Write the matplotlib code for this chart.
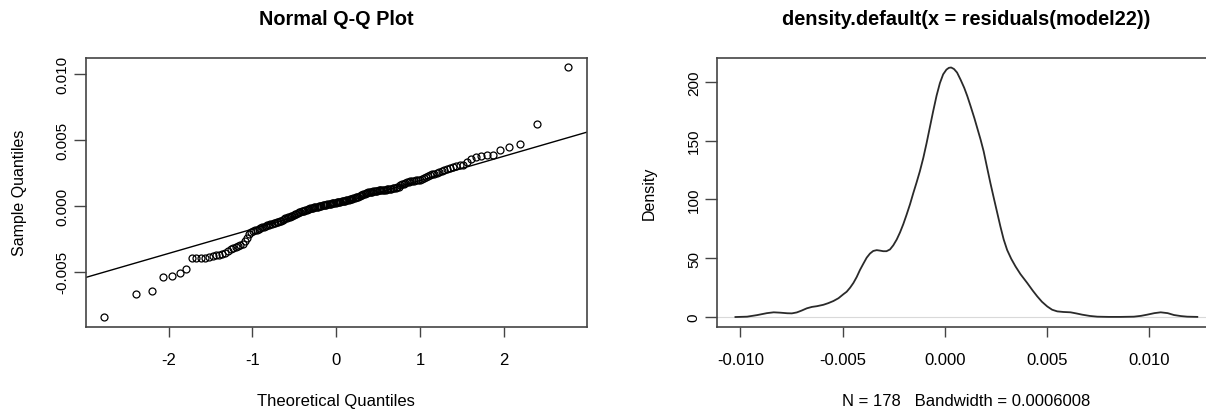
import matplotlib
matplotlib.use("Agg")
import matplotlib.pyplot as plt
import matplotlib.ticker as mticker
import numpy as np
from statistics import NormalDist

# sorted residuals (178 points)
residuals = [
    -0.00845, -0.00673, -0.00647, -0.00540, -0.00533, -0.00513, -0.00480, -0.00398, -0.00396, -0.00395,
    -0.00394, -0.00390, -0.00380, -0.00376, -0.00372, -0.00365, -0.00355, -0.00340, -0.00328, -0.00320,
    -0.00312, -0.00305, -0.00295, -0.00287, -0.00270, -0.00245, -0.00215, -0.00200, -0.00190, -0.00185,
    -0.00180, -0.00174, -0.00167, -0.00162, -0.00157, -0.00152, -0.00147, -0.00144, -0.00141, -0.00138,
    -0.00134, -0.00130, -0.00126, -0.00121, -0.00118, -0.00113, -0.00107, -0.00102, -0.00096, -0.00091,
    -0.00087, -0.00083, -0.00079, -0.00075, -0.00070, -0.00065, -0.00060, -0.00055, -0.00050, -0.00046,
    -0.00042, -0.00039, -0.00036, -0.00033, -0.00030, -0.00027, -0.00023, -0.00020, -0.00017, -0.00015,
    -0.00012, -0.00010, -0.00008, -0.00005, -0.00002, 0.00000, 0.00002, 0.00004, 0.00006, 0.00008,
    0.00010, 0.00012, 0.00014, 0.00016, 0.00018, 0.00020, 0.00021, 0.00023, 0.00024, 0.00026,
    0.00028, 0.00030, 0.00032, 0.00034, 0.00036, 0.00038, 0.00040, 0.00043, 0.00045, 0.00047,
    0.00050, 0.00053, 0.00056, 0.00059, 0.00062, 0.00065, 0.00068, 0.00071, 0.00075, 0.00079,
    0.00083, 0.00087, 0.00091, 0.00095, 0.00099, 0.00102, 0.00105, 0.00107, 0.00109, 0.00111,
    0.00113, 0.00114, 0.00115, 0.00117, 0.00118, 0.00119, 0.00121, 0.00122, 0.00124, 0.00126,
    0.00127, 0.00129, 0.00131, 0.00133, 0.00135, 0.00137, 0.00140, 0.00146, 0.00155, 0.00163,
    0.00169, 0.00174, 0.00180, 0.00185, 0.00188, 0.00190, 0.00192, 0.00194, 0.00196, 0.00199,
    0.00206, 0.00214, 0.00222, 0.00230, 0.00235, 0.00240, 0.00245, 0.00250, 0.00256, 0.00263,
    0.00270, 0.00278, 0.00287, 0.00295, 0.00301, 0.00307, 0.00314, 0.00335, 0.00358, 0.00375,
    0.00380, 0.00384, 0.00388, 0.00428, 0.00449, 0.00474, 0.00619, 0.01052,
]

# density curve
dens_x = [
    -0.01024, -0.00967, -0.00919, -0.00870, -0.00837, -0.00805, -0.00770, -0.00748, -0.00724, -0.00700,
    -0.00675, -0.00650, -0.00626, -0.00594, -0.00570, -0.00545, -0.00520, -0.00496, -0.00480, -0.00463,
    -0.00447, -0.00431, -0.00415, -0.00398, -0.00382, -0.00366, -0.00350, -0.00333, -0.00317, -0.00301,
    -0.00285, -0.00268, -0.00252, -0.00235, -0.00219, -0.00203, -0.00187, -0.00170, -0.00154, -0.00138,
    -0.00122, -0.00105, -0.00089, -0.00073, -0.00057, -0.00040, -0.00024, -0.00008, 0.00008, 0.00020,
    0.00031, 0.00045, 0.00060, 0.00077, 0.00095, 0.00110, 0.00126, 0.00145, 0.00160, 0.00175,
    0.00190, 0.00207, 0.00223, 0.00240, 0.00256, 0.00272, 0.00288, 0.00305, 0.00325, 0.00346,
    0.00370, 0.00403, 0.00430, 0.00452, 0.00475, 0.00501, 0.00525, 0.00550, 0.00580, 0.00615,
    0.00645, 0.00672, 0.00710, 0.00746, 0.00800, 0.00860, 0.00925, 0.00960, 0.00990, 0.01025,
    0.01056, 0.01090, 0.01121, 0.01155, 0.01186, 0.01235,
]
dens_y = [
    0.0, 0.3, 1.6, 3.3, 4.0, 3.7, 3.2, 3.1, 3.9, 5.5,
    7.4, 8.6, 9.2, 10.4, 11.8, 13.6, 16.0, 19.4, 21.5, 25.0,
    29.0, 34.0, 40.0, 45.5, 50.5, 54.0, 56.2, 56.9, 56.5, 56.0,
    56.0, 57.5, 61.0, 66.0, 72.0, 79.0, 87.0, 96.0, 105.5, 114.5,
    124.0, 135.5, 148.0, 161.5, 175.0, 188.5, 199.0, 206.5, 210.5, 212.0,
    212.3, 211.0, 208.0, 202.0, 195.0, 188.0, 179.5, 169.0, 160.0, 151.0,
    141.0, 127.0, 114.0, 101.0, 89.0, 77.0, 66.0, 57.0, 49.5, 43.0,
    36.5, 29.0, 22.5, 17.6, 13.0, 9.0, 6.2, 4.8, 4.3, 4.0,
    3.0, 2.0, 0.9, 0.3, 0.1, 0.1, 0.3, 1.0, 2.0, 3.3,
    4.0, 3.3, 1.7, 0.8, 0.3, 0.1,
]

qq_xticks = [-2, -1, 0, 1, 2]
qq_yticks = [-0.005, 0.0, 0.005, 0.010]
d_xticks = [-0.010, -0.005, 0.0, 0.005, 0.010]
d_yticks = [0, 50, 100, 150, 200]

plt.rcParams['font.family'] = ['Liberation Sans', 'DejaVu Sans']
plt.rcParams['axes.unicode_minus'] = False

BOX = '#444444'

fig = plt.figure(figsize=(12.06, 4.10), dpi=100)
ax1 = fig.add_axes([0.0709, 0.2, 0.4158, 0.6573])
ax2 = fig.add_axes([0.5945, 0.2, 0.4136, 0.6573])


def r_style(ax):
    for s in ax.spines.values():
        s.set_color(BOX)
        s.set_linewidth(1.2)
    ax.tick_params(axis='x', length=7.2, width=1.0, color=BOX, labelsize=12, pad=10.5)
    ax.tick_params(axis='y', length=8.6, width=1.0, color=BOX, labelsize=11, pad=3,
                   labelrotation=90)
    for lbl in ax.get_yticklabels():
        lbl.set_va('center')
    ax.margins(0.04)


# Q-Q plot
n = len(residuals)
sample = np.array(residuals)
probs = (np.arange(1, n + 1) - 0.5) / n
theo = np.array([NormalDist().inv_cdf(p) for p in probs])
ax1.plot(theo, sample, linestyle='none', marker='o', markersize=5,
         markerfacecolor='none', markeredgecolor='black', markeredgewidth=0.9)
q1, q3 = np.quantile(sample, [0.25, 0.75])
z1, z3 = NormalDist().inv_cdf(0.25), NormalDist().inv_cdf(0.75)
slope = (q3 - q1) / (z3 - z1)
ax1.axline((z1, q1), slope=slope, color='black', linewidth=1.0)
ax1.set_xticks(qq_xticks)
ax1.set_yticks(qq_yticks)
ax1.yaxis.set_major_formatter(mticker.FormatStrFormatter('%.3f'))
r_style(ax1)
ax1.set_title('Normal Q-Q Plot', fontsize=14.3, fontweight='bold', pad=24)
ax1.set_xlabel('Theoretical Quantiles', fontsize=12)
ax1.xaxis.set_label_coords(0.5, -0.245)
ax1.set_ylabel('Sample Quantiles', fontsize=11.5)
ax1.yaxis.set_label_coords(-0.117, 0.5)

# density plot
ax2.axhline(0, color='#d9d9d9', linewidth=0.8, zorder=1)
ax2.plot(dens_x, dens_y, color='#2a2a2a', linewidth=1.3)
ax2.set_xticks(d_xticks)
ax2.set_yticks(d_yticks)
ax2.xaxis.set_major_formatter(mticker.FormatStrFormatter('%.3f'))
r_style(ax2)
ax2.set_title('density.default(x = residuals(model22))', fontsize=14.3,
              fontweight='bold', pad=24)
ax2.set_xlabel('N = 178   Bandwidth = 0.0006008', fontsize=12)
ax2.xaxis.set_label_coords(0.5, -0.245)
ax2.set_ylabel('Density', fontsize=11.5)
ax2.yaxis.set_label_coords(-0.1215, 0.5)

fig.savefig('out.png', dpi=100)
